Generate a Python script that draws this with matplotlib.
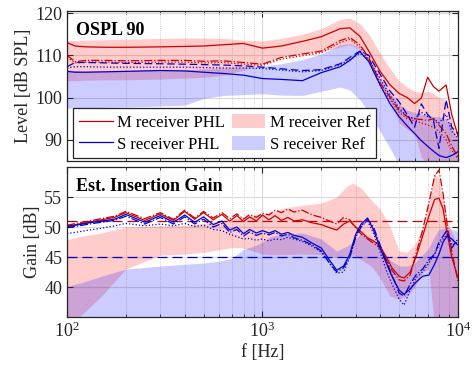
import matplotlib
matplotlib.use('Agg')
import matplotlib.pyplot as plt
from matplotlib.patches import Patch
from matplotlib.lines import Line2D

plt.rcParams['font.family'] = ['Liberation Serif', 'DejaVu Serif']
plt.rcParams['mathtext.fontset'] = 'stix'

# --- OSPL 90 (top) ---
f_top = [100, 110, 125, 160, 200, 300, 400, 500, 630, 800, 1000, 1250, 1600, 2000, 2500, 2800,
         3150, 3500, 4000, 4500, 5000, 5500, 6000, 6500, 7000, 7500, 8000, 8700, 9300, 10000]
m_phl_top = [113.0, 112.2, 112.0, 111.9, 111.9, 112.0, 112.1, 112.2, 112.5, 112.8, 111.7, 112.2, 113.3, 114.4, 116.3, 116.5,
             114.5, 111.0, 106.2, 103.0, 101.0, 100.0, 98.6, 99.9, 104.8, 102.6, 101.5, 103.0, 96.0, 91.0]
m_dd_top = [110.0, 108.5, 108.8, 108.8, 108.7, 108.8, 108.8, 108.6, 108.7, 108.3, 107.9, 109.5, 110.3, 111.0, 113.5, 114.2,
            112.5, 109.5, 103.5, 100.0, 97.0, 95.5, 95.0, 94.8, 94.6, 95.0, 93.5, 91.5, 88.5, 86.0]
m_dot_top = [109.5, 108.2, 108.4, 108.4, 108.3, 108.4, 108.4, 108.2, 108.3, 107.9, 107.6, 109.1, 109.9, 110.6, 113.0, 113.8,
             112.0, 108.8, 102.8, 99.5, 96.5, 95.0, 94.5, 94.0, 93.5, 93.0, 92.0, 90.0, 87.5, 85.5]
s_phl_top = [106.2, 106.0, 106.0, 106.1, 106.2, 106.4, 106.3, 106.0, 105.7, 105.3, 104.5, 104.3, 104.0, 105.9, 107.3, 108.8,
             110.9, 108.5, 103.0, 98.5, 95.5, 93.3, 91.5, 89.8, 88.5, 87.3, 86.3, 85.8, 86.3, 87.2]
s_dash_top = [107.3, 108.3, 108.3, 108.2, 108.1, 108.0, 107.9, 107.8, 107.7, 107.5, 107.2, 106.8, 106.4, 106.6, 108.0, 109.5,
              111.0, 110.0, 105.5, 101.5, 99.0, 96.0, 93.0, 98.5, 96.0, 94.5, 88.0, 99.5, 93.0, 91.5]
s_dot_top = [107.0, 107.3, 107.3, 107.2, 107.2, 107.2, 107.2, 107.1, 107.0, 107.0, 106.9, 106.5, 106.1, 106.4, 107.8, 109.0,
             110.5, 109.0, 104.5, 100.5, 97.5, 95.5, 95.0, 96.5, 95.5, 95.0, 94.0, 96.0, 92.0, 90.5]
m_ref_hi_top = [113.5, 113.5, 113.6, 113.7, 113.8, 114.0, 114.1, 114.1, 114.0, 113.6, 113.4, 114.0, 115.0, 116.3, 118.5, 118.8,
                117.5, 115.0, 110.5, 106.8, 104.0, 102.5, 101.5, 101.2, 101.5, 101.0, 100.0, 99.5, 95.0, 90.0]
m_ref_lo_top = [104.0, 104.0, 104.1, 104.2, 104.2, 104.4, 104.6, 104.8, 105.3, 106.5, 108.0, 109.8, 110.3, 110.8, 112.0, 112.5,
                111.5, 108.5, 103.5, 99.0, 94.0, 92.5, 91.5, 86.0, 84.0, 84.0, 84.0, 84.0, 84.0, 84.0]
s_ref_hi_top = [106.5, 106.4, 106.3, 106.3, 106.4, 106.5, 106.6, 106.8, 107.0, 107.2, 107.5, 108.0, 109.0, 110.3, 112.5, 112.8,
                111.8, 109.0, 104.5, 101.0, 98.5, 97.0, 96.5, 96.0, 96.0, 95.5, 95.5, 95.0, 93.0, 90.0]
s_ref_lo_top = [97.5, 97.5, 97.6, 97.7, 97.8, 98.0, 98.2, 99.8, 100.5, 100.7, 100.9, 100.6, 100.5, 101.5, 102.5, 101.8,
                99.5, 96.5, 92.0, 88.0, 84.0, 80.0, 80.0, 80.0, 80.0, 80.0, 80.0, 80.0, 80.0, 80.0]

# --- Est. Insertion Gain (bottom) ---
f_gain = [100, 115, 130, 150, 175, 200, 250, 300, 350, 400, 450, 500, 560, 620, 680, 740, 800, 860, 930, 1000,
          1080, 1160, 1250, 1350, 1450, 1600, 1800, 2000, 2200, 2400, 2600, 2800, 3000, 3200, 3450, 3700, 4000,
          4300, 4600, 5000, 5300, 5700, 6100, 6600, 7100, 7600, 8000, 8400, 8800, 9300, 10000]
m_phl_gain = [50.1, 50.5, 50.8, 51.2, 51.6, 52.4, 51.1, 52.2, 51.1, 52.6, 51.3, 52.4, 51.2, 52.1, 51.0, 51.9, 50.9, 51.7, 51.0, 52.0,
              51.2, 51.9, 51.1, 51.6, 51.0, 51.2, 50.7, 50.4, 49.9, 49.5, 50.5, 51.0, 50.0, 49.2, 48.2, 47.7, 46.8,
              45.0, 43.2, 41.8, 41.5, 42.5, 45.0, 48.5, 51.8, 54.6, 54.8, 53.0, 49.0, 45.0, 41.5]
m_dd_gain = [50.3, 50.7, 51.0, 51.4, 51.8, 52.6, 51.4, 52.4, 51.3, 52.8, 51.5, 52.6, 51.5, 52.4, 51.4, 52.2, 51.3, 52.1, 51.6, 52.3,
             52.0, 52.8, 52.4, 53.0, 52.5, 52.8, 52.0, 51.6, 51.0, 50.5, 51.6, 51.2, 49.8, 48.8, 48.0, 47.3, 46.5,
             44.5, 42.8, 41.2, 41.0, 42.0, 45.5, 49.5, 54.0, 58.5, 59.5, 55.5, 50.5, 46.0, 41.0]
s_phl_gain = [50.1, 50.4, 50.7, 51.0, 51.3, 52.1, 50.8, 51.9, 50.8, 52.0, 50.8, 51.7, 50.4, 51.0, 49.5, 50.0, 48.9, 49.6, 49.0, 49.4,
              49.0, 49.4, 48.8, 49.1, 48.6, 48.3, 47.3, 46.5, 44.5, 42.8, 43.5, 45.5, 48.8, 50.5, 51.5, 49.5, 46.5,
              44.0, 41.8, 39.5, 38.8, 39.7, 40.8, 41.8, 42.0, 43.8, 45.5, 47.5, 48.5, 48.0, 47.0]
s_dd_gain = [49.9, 50.2, 50.5, 50.8, 51.1, 51.8, 50.5, 51.6, 50.5, 51.7, 50.5, 51.3, 50.0, 50.6, 49.1, 49.6, 48.5, 49.2, 48.6, 49.0,
             48.7, 49.1, 48.5, 48.8, 48.2, 47.8, 47.0, 46.0, 44.0, 42.5, 43.2, 45.0, 48.3, 50.0, 51.2, 50.0, 47.0,
             44.3, 42.0, 39.0, 38.5, 40.5, 42.0, 43.0, 44.5, 45.5, 47.5, 48.5, 49.5, 46.5, 48.0]
s_dot_gain = [48.9, 49.2, 49.5, 49.8, 50.2, 50.6, 50.2, 50.5, 50.2, 50.6, 50.1, 50.3, 49.6, 49.4, 48.8, 48.4, 48.0, 48.1, 47.8, 48.0,
              47.7, 48.0, 47.9, 48.3, 48.0, 47.6, 46.8, 45.8, 44.0, 42.3, 42.5, 45.0, 48.5, 50.3, 51.0, 49.0, 45.8,
              42.8, 40.5, 38.0, 37.0, 39.5, 41.5, 42.5, 44.0, 45.5, 47.0, 48.0, 48.8, 47.0, 47.5]

f_band = [100, 120, 150, 200, 300, 400, 500, 600, 700, 800, 900, 1000, 1100, 1300, 1600, 2000, 2400, 2700,
          2900, 3200, 3600, 4000, 4500, 5000, 5500, 6000, 6600, 7100, 7600, 8000, 8500, 9000, 9500, 10000]
m_ref_hi_gain = [47.9, 48.5, 49.0, 50.0, 50.2, 50.3, 50.6, 51.0, 51.3, 51.7, 52.0, 52.2, 52.5, 53.2, 53.6, 54.0, 55.0, 56.8,
                 57.3, 56.5, 54.5, 53.0, 50.0, 46.0, 45.8, 47.0, 50.0, 54.0, 59.0, 58.0, 53.5, 50.0, 48.5, 46.5]
m_ref_lo_gain = [33.0, 35.5, 38.5, 43.0, 45.3, 45.5, 45.8, 46.2, 46.6, 46.5, 46.0, 45.5, 45.4, 45.4, 45.5, 45.4, 45.0, 45.3,
                 45.4, 44.5, 43.5, 41.5, 38.5, 38.0, 38.5, 40.0, 42.5, 43.0, 33.0, 33.0, 33.0, 33.0, 33.0, 33.0]
s_ref_hi_gain = [40.1, 40.8, 41.8, 43.0, 43.5, 43.8, 44.0, 44.3, 44.8, 46.3, 46.8, 47.5, 48.4, 48.8, 49.0, 48.0, 46.0, 46.8,
                 47.5, 49.0, 48.0, 46.5, 44.5, 43.5, 43.5, 44.0, 45.4, 46.5, 48.5, 49.6, 49.8, 49.8, 49.5, 49.3]
s_ref_lo_gain = [30.0] * len(f_band)

red = '#CC0000'
blue = '#0000CC'
axcol = '#262626'

fig = plt.figure(figsize=(4.76, 3.77), dpi=100)
ax1 = fig.add_axes([0.1408, 0.573, 0.8212, 0.398])
ax2 = fig.add_axes([0.1408, 0.159, 0.8212, 0.398])

# top panel
ax1.fill_between(f_top, m_ref_lo_top, m_ref_hi_top, color='red', alpha=0.2, lw=0)
ax1.fill_between(f_top, s_ref_lo_top, s_ref_hi_top, color='blue', alpha=0.2, lw=0)
ax1.plot(f_top, m_phl_top, color=red, lw=0.9)
ax1.plot(f_top, m_dd_top, color=red, lw=0.9, ls='-.')
ax1.plot(f_top, m_dot_top, color=red, lw=0.9, ls=':')
ax1.plot(f_top, s_phl_top, color=blue, lw=0.9)
ax1.plot(f_top, s_dash_top, color=blue, lw=0.9, ls=(0, (6, 3)))
ax1.plot(f_top, s_dot_top, color=blue, lw=0.9, ls=':')

# bottom panel
ax2.fill_between(f_band, m_ref_lo_gain, m_ref_hi_gain, color='red', alpha=0.2, lw=0)
ax2.fill_between(f_band, s_ref_lo_gain, s_ref_hi_gain, color='blue', alpha=0.2, lw=0)
ax2.axhline(51, color=red, lw=0.9, ls=(0, (8, 4)))
ax2.axhline(45, color=blue, lw=0.9, ls=(0, (8, 4)))
ax2.plot(f_gain, m_phl_gain, color=red, lw=0.9)
ax2.plot(f_gain, m_dd_gain, color=red, lw=0.9, ls='-.')
ax2.plot(f_gain, s_phl_gain, color=blue, lw=0.9)
ax2.plot(f_gain, s_dd_gain, color=blue, lw=0.9, ls='-.')
ax2.plot(f_gain, s_dot_gain, color=blue, lw=0.9, ls=':')

for ax in (ax1, ax2):
    ax.set_xscale('log')
    ax.set_xlim(100, 10000)
    ax.grid(True, which='major', color='#d9d9d9', lw=0.8, ls='-')
    ax.grid(True, which='minor', color='#bfbfbf', lw=0.6, ls=':')
    ax.set_axisbelow(True)
    ax.tick_params(which='both', direction='in', top=True, right=True, colors=axcol, labelsize=13)
    ax.tick_params(which='major', length=4)
    ax.tick_params(which='minor', length=2)
    for s in ax.spines.values():
        s.set_color(axcol)
        s.set_linewidth(0.9)

ax1.set_ylim(85, 120.5)
ax1.set_yticks([90, 100, 110, 120])
ax1.tick_params(labelbottom=False)
ax1.set_ylabel('Level [dB SPL]', fontsize=13, color=axcol, labelpad=2)
ax1.text(0.022, 0.925, 'OSPL 90', transform=ax1.transAxes, fontsize=13, fontweight='bold', va='top')

ax2.set_ylim(35, 60)
ax2.set_yticks([40, 45, 50, 55])
ax2.set_ylabel('Gain [dB]', fontsize=13, color=axcol, labelpad=2)
ax2.set_xlabel('f [Hz]', fontsize=13, color=axcol, labelpad=2)
ax2.text(0.022, 0.93, 'Est. Insertion Gain', transform=ax2.transAxes, fontsize=13, fontweight='bold', va='top')

handles = [Line2D([], [], color=red, lw=0.9), Line2D([], [], color=blue, lw=0.9),
           Patch(facecolor='red', alpha=0.2, lw=0), Patch(facecolor='blue', alpha=0.2, lw=0)]
labels = ['M receiver PHL', 'S receiver PHL', 'M receiver Ref', 'S receiver Ref']
leg = ax1.legend(handles, labels, ncol=2, loc='lower left', bbox_to_anchor=(0.01, 0.0), fontsize=12,
                 frameon=True, fancybox=False, edgecolor=axcol, framealpha=1, handlelength=2.0,
                 handleheight=0.9, columnspacing=0.45, borderpad=0.35, labelspacing=0.3, handletextpad=0.25,
                 borderaxespad=0.15)
leg.get_frame().set_linewidth(0.9)

fig.savefig('out.png', dpi=100)
